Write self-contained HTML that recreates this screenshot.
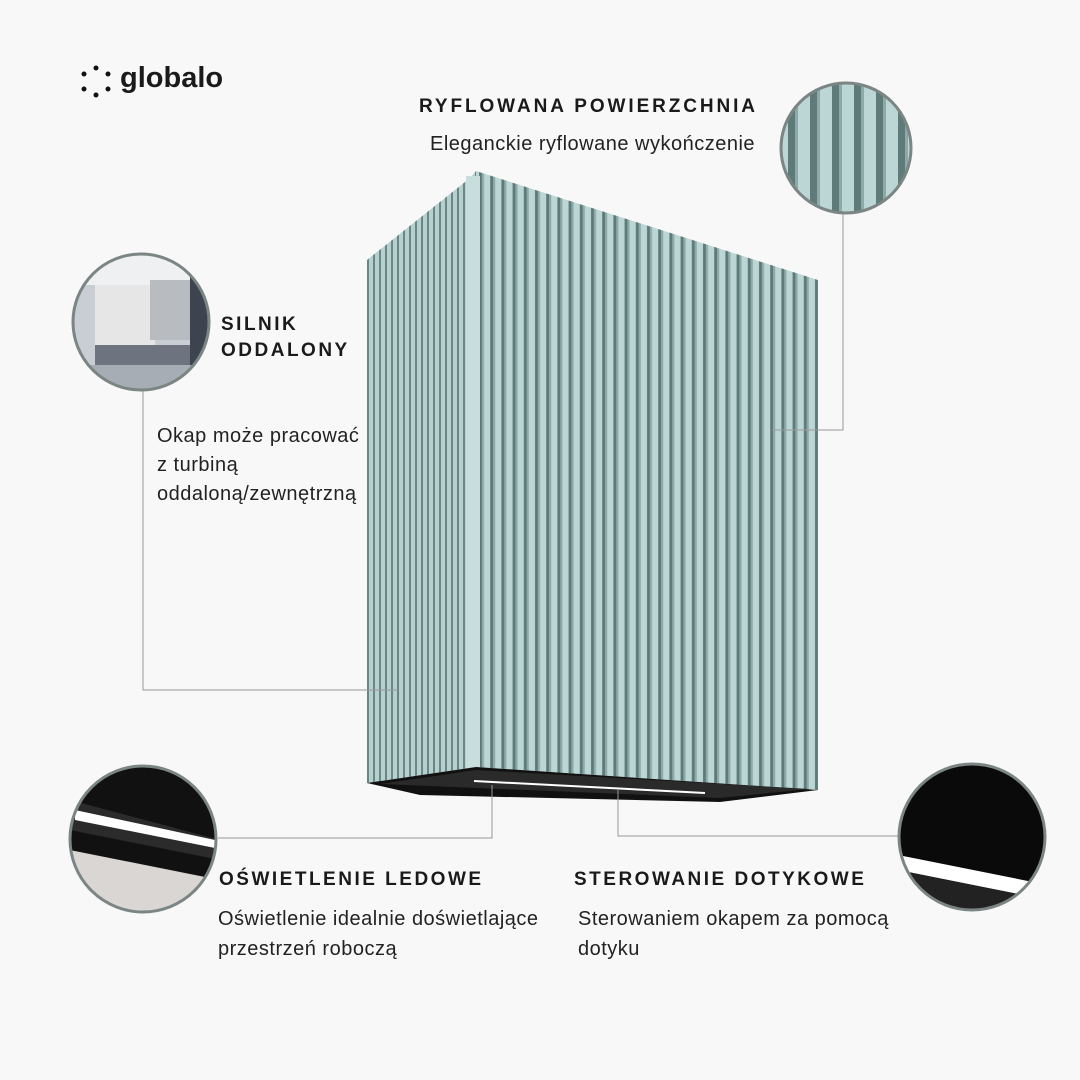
<!DOCTYPE html>
<html><head><meta charset="utf-8"><style>
body{margin:0;width:1080px;height:1080px;background:#f8f8f8;overflow:hidden;position:relative;font-family:"Liberation Sans",sans-serif;color:#1a1a1a}
.t{position:absolute;white-space:nowrap}
.h{font-weight:bold;font-size:19px;letter-spacing:2.5px}
.p{font-size:20px;line-height:27px;color:#222;letter-spacing:0.5px}
</style></head><body>
<svg width="1080" height="1080" style="position:absolute;left:0;top:0">
<defs>
<pattern id="pr" width="11.2" height="20" patternUnits="userSpaceOnUse" x="476">
<rect width="11.2" height="20" fill="#bcd6d5"/><rect x="3" width="3" height="20" fill="#5f7b79"/><rect x="6" width="2" height="20" fill="#8eaaa8"/></pattern>
<pattern id="pl" width="6" height="20" patternUnits="userSpaceOnUse" x="367">
<rect width="6" height="20" fill="#b5d0cf"/><rect x="0" width="2" height="20" fill="#6a8785"/></pattern>
<pattern id="pc" width="22" height="40" patternUnits="userSpaceOnUse" x="780">
<rect width="22" height="40" fill="#bcd6d5"/><rect x="8" width="7" height="40" fill="#5f7b79"/><rect x="15" width="3" height="40" fill="#8eaaa8"/></pattern>
<clipPath id="c1"><circle cx="846" cy="148" r="64"/></clipPath>
<clipPath id="c2"><circle cx="141" cy="322" r="67"/></clipPath>
<clipPath id="c3"><circle cx="143" cy="839" r="72"/></clipPath>
<clipPath id="c4"><circle cx="972" cy="837" r="72"/></clipPath>
</defs>
<polygon points="367,260 470,178 476,171 476,767 367,783" fill="url(#pl)"/>
<polygon points="476,171 818,280 818,790 476,767" fill="url(#pr)"/>
<rect x="466" y="176" width="14" height="592" fill="#c8dedd"/>
<polygon points="367,783 476,767 818,790 720,802 420,795" fill="#111"/>
<polygon points="380,784 476,770 810,789 720,798" fill="#2a2a2a"/>
<line x1="474" y1="781" x2="705" y2="793" stroke="#fff" stroke-width="2"/>
<g stroke="#999" stroke-width="1" fill="none">
<polyline points="843,213 843,430 772,430"/>
<polyline points="143,390 143,690 398,690"/>
<polyline points="218,838 492,838 492,785"/>
<polyline points="618,790 618,836 900,836"/>
</g>
<g clip-path="url(#c1)"><rect x="780" y="80" width="140" height="140" fill="url(#pc)"/></g>
<circle cx="846" cy="148" r="65" fill="none" stroke="#7a8584" stroke-width="3"/>
<g clip-path="url(#c2)"><rect x="70" y="250" width="150" height="150" fill="#c9ced4"/>
<rect x="70" y="250" width="150" height="35" fill="#eef0f2"/>
<rect x="95" y="285" width="60" height="60" fill="#e6e6e6"/><rect x="150" y="280" width="40" height="60" fill="#b8bcc0"/>
<rect x="190" y="270" width="20" height="120" fill="#3d4450"/><rect x="95" y="345" width="95" height="20" fill="#6d7480"/><rect x="70" y="365" width="150" height="40" fill="#a7adb5"/></g>
<circle cx="141" cy="322" r="68" fill="none" stroke="#7a8584" stroke-width="3"/>
<g clip-path="url(#c3)"><rect x="70" y="765" width="150" height="150" fill="#111"/>
<polygon points="70,800 220,840 220,860 70,830" fill="#2b2b2b"/>
<polygon points="75,810 215,840 215,848 75,820" fill="#fff"/>
<polygon points="70,850 220,880 220,915 70,915" fill="#d9d6d4"/></g>
<circle cx="143" cy="839" r="73" fill="none" stroke="#7a8584" stroke-width="3"/>
<g clip-path="url(#c4)"><rect x="898" y="763" width="150" height="150" fill="#0a0a0a"/>
<polygon points="898,855 1048,885 1048,900 898,870" fill="#fff"/>
<polygon points="898,870 1048,900 1048,913 898,913" fill="#222"/></g>
<circle cx="972" cy="837" r="73" fill="none" stroke="#7a8584" stroke-width="3"/>
<g fill="#111"><circle cx="96" cy="68" r="2.5"/><circle cx="96" cy="95" r="2.5"/><circle cx="84" cy="74" r="2.5"/><circle cx="108" cy="74" r="2.5"/><circle cx="84" cy="89" r="2.5"/><circle cx="108" cy="89" r="2.5"/></g>
</svg>
<div class="t" style="left:120px;top:62px;font-size:29px;font-weight:bold;letter-spacing:0">globalo</div>
<div class="t h" style="left:419px;top:96px;letter-spacing:2.9px">RYFLOWANA POWIERZCHNIA</div>
<div class="t p" style="left:430px;top:131px">Eleganckie ryflowane wykończenie</div>
<div class="t h" style="left:221px;top:312px;line-height:26px">SILNIK<br>ODDALONY</div>
<div class="t p" style="left:157px;top:422px;line-height:29px">Okap może pracować<br>z turbiną<br>oddaloną/zewnętrzną</div>
<div class="t h" style="left:219px;top:869px">OŚWIETLENIE LEDOWE</div>
<div class="t p" style="left:218px;top:904px;line-height:30px">Oświetlenie idealnie doświetlające<br>przestrzeń roboczą</div>
<div class="t h" style="left:574px;top:869px">STEROWANIE DOTYKOWE</div>
<div class="t p" style="left:578px;top:904px;line-height:30px">Sterowaniem okapem za pomocą<br>dotyku</div>
</body></html>
